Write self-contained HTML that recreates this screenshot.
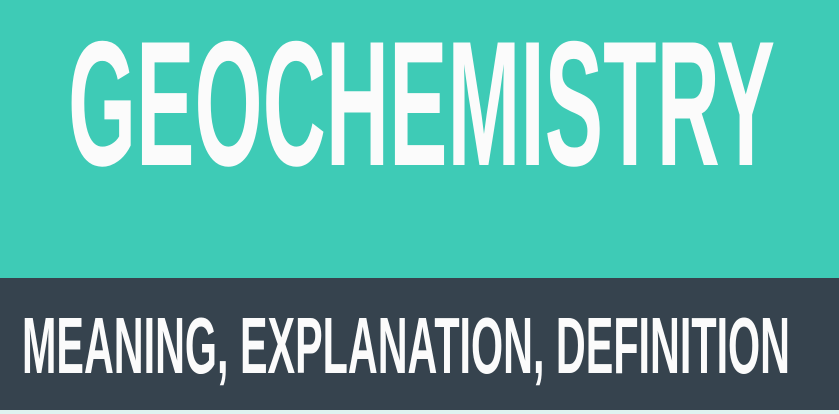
<!DOCTYPE html>
<html><head><meta charset="utf-8"><style>
html,body{margin:0;padding:0;width:839px;height:414px;overflow:hidden;background:#3ecbb6}
svg{display:block}
</style></head><body>
<svg width="839" height="414" viewBox="0 0 839 414">
<rect x="0" y="0" width="839" height="278" fill="#3ecbb6"/>
<rect x="0" y="278" width="839" height="132" fill="#36434e"/>
<rect x="0" y="410" width="839" height="4" fill="#dff3f0"/>
<text x="68" y="165" font-family="'Liberation Sans Narrow','Liberation Sans',sans-serif" font-weight="bold" font-size="178" fill="#fbfbfb" textLength="707" lengthAdjust="spacingAndGlyphs">GEOCHEMISTRY</text>
<text x="22" y="373" font-family="'Liberation Sans Narrow','Liberation Sans',sans-serif" font-weight="bold" font-size="80" fill="#fbfbfb" textLength="768" lengthAdjust="spacingAndGlyphs">MEANING, EXPLANATION, DEFINITION</text>
</svg>
</body></html>
